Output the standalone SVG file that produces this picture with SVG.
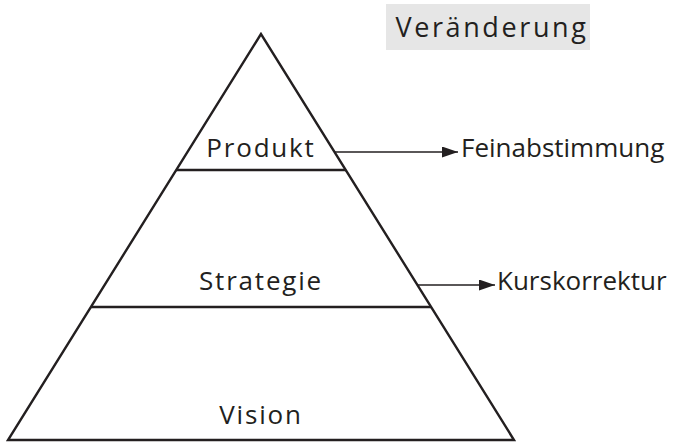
<svg xmlns="http://www.w3.org/2000/svg" width="673" height="443" viewBox="0 0 673 443">
  <defs>
    <marker id="arrow" viewBox="0 0 10 10" refX="10" refY="5" markerWidth="16" markerHeight="11" markerUnits="userSpaceOnUse" orient="auto" preserveAspectRatio="none">
      <path d="M0,0 L10,5 L0,10 Z" fill="#231f20"/>
    </marker>
    <style>
      .edge { stroke: #231f20; stroke-width: 2.4; fill: none; }
      .lvl { font-family: "Open Sans", "Liberation Sans", sans-serif; font-size: 26px; letter-spacing: 1.8px; fill: #231f20; text-anchor: middle; }
      .note { font-family: "Open Sans", "Liberation Sans", sans-serif; font-size: 26px; fill: #231f20; }
      .conn { stroke: #231f20; stroke-width: 1.5; fill: none; marker-end: url(#arrow); }
    </style>
  </defs>

  <g id="title">
    <rect x="386" y="4" width="204" height="46" fill="#e6e6e6"/>
    <text x="492" y="37" class="lvl" style="font-size:27px;letter-spacing:2.6px">Veränderung</text>
  </g>

  <g id="pyramid">
    <polygon class="edge" points="261,34 8,440 514,440"/>
    <line class="edge" x1="176" y1="170" x2="346" y2="170"/>
    <line class="edge" x1="91" y1="307" x2="431" y2="307"/>
  </g>

  <g id="produkt">
    <text x="261" y="157" class="lvl">Produkt</text>
  </g>
  <g id="strategie">
    <text x="261" y="290" class="lvl">Strategie</text>
  </g>
  <g id="vision">
    <text x="261" y="424" class="lvl">Vision</text>
  </g>

  <g id="connectors">
    <line class="conn" x1="334" y1="152" x2="458" y2="152"/>
    <line class="conn" x1="417" y1="285" x2="495" y2="285"/>
  </g>

  <g id="feinabstimmung">
    <text x="461" y="157" class="note">Feinabstimmung</text>
  </g>
  <g id="kurskorrektur">
    <text x="497" y="290" class="note">Kurskorrektur</text>
  </g>
</svg>
